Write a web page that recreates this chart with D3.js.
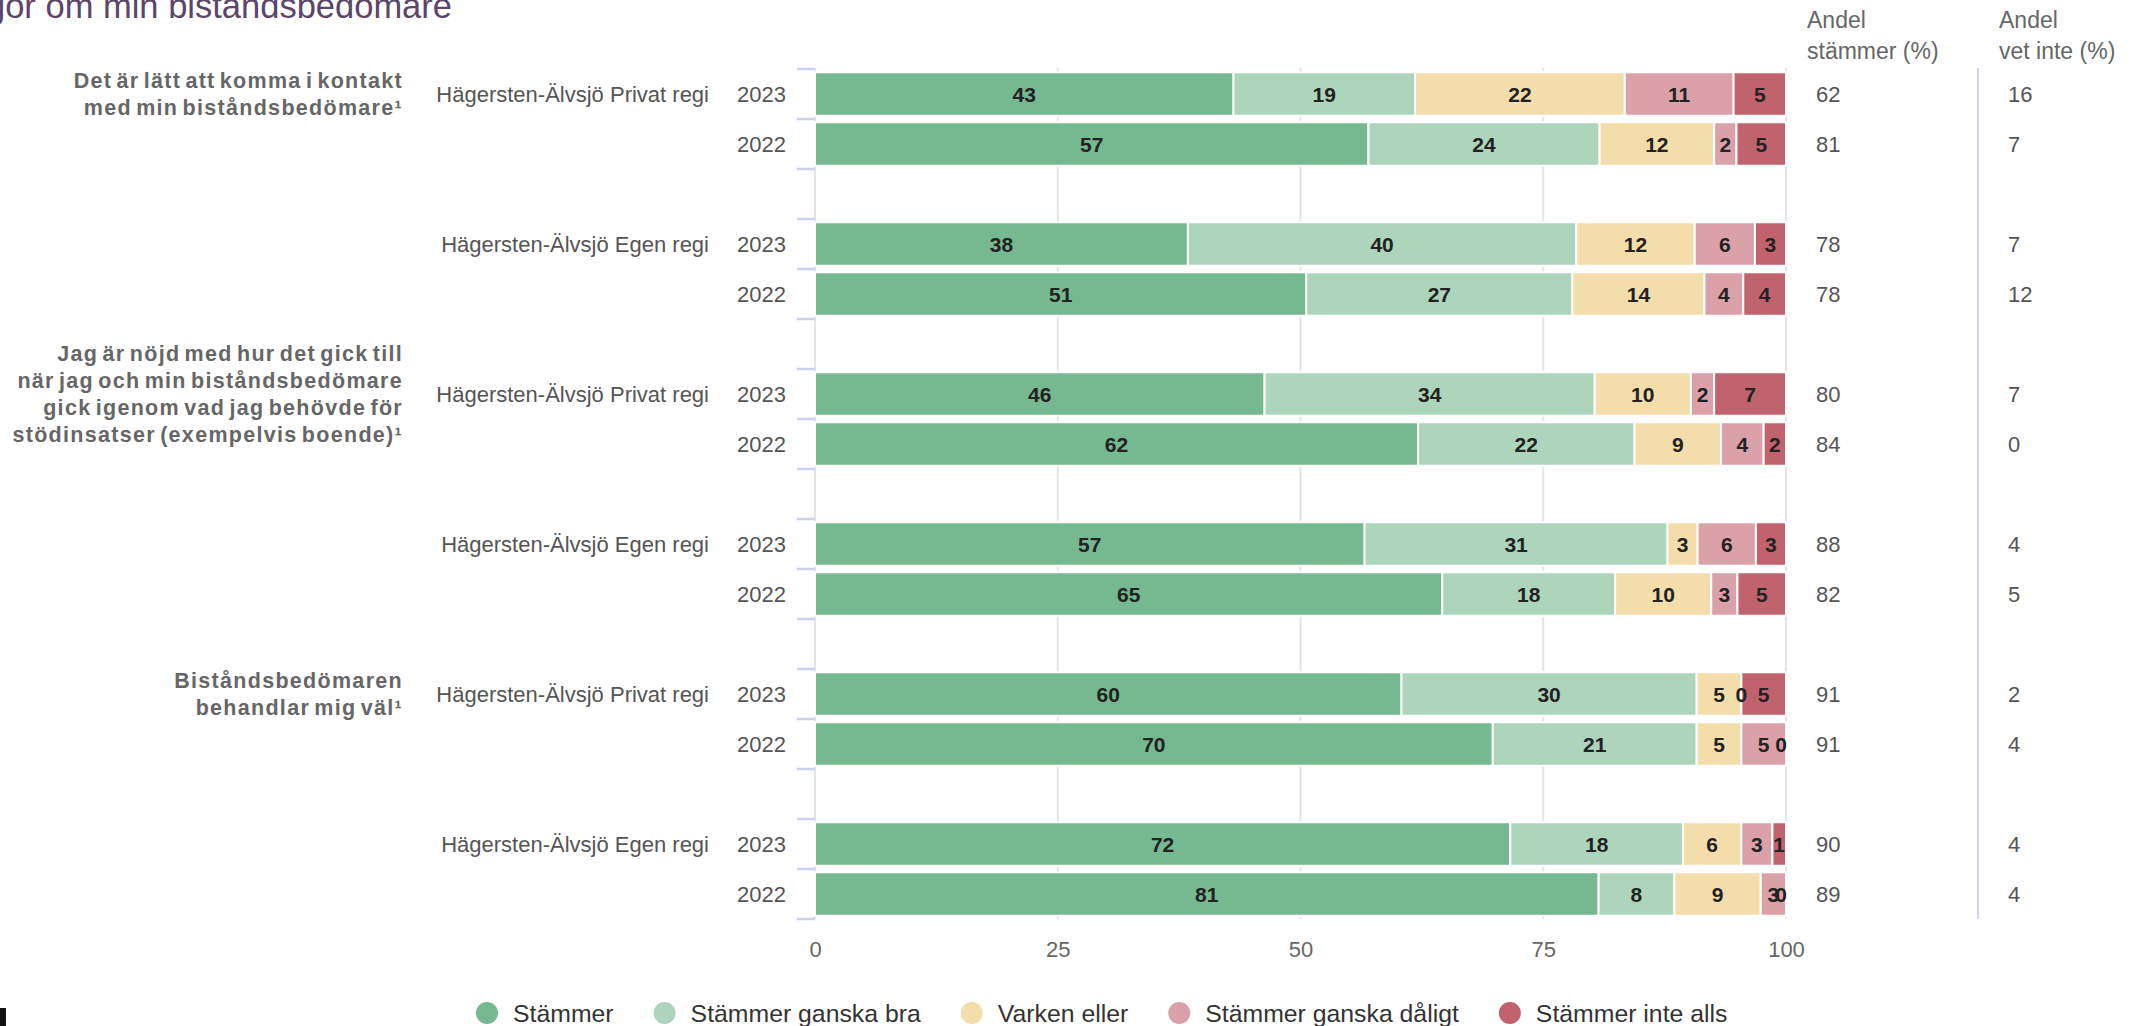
<!DOCTYPE html>
<html><head><meta charset="utf-8">
<script src="https://cdn.jsdelivr.net/npm/d3@7"></script>
<style>
body{margin:0;background:#fff;overflow:hidden}
text{font-family:"Liberation Sans",Arial,Helvetica,sans-serif}
</style>
</head><body>
<svg id="chart" width="2138" height="1026"></svg>
<script>
// ---------- data ----------
const titleText = "Frågor om min biståndsbedömare";
const questions = [
  ["Det är lätt att komma i kontakt", "med min biståndsbedömare¹"],
  ["Jag är nöjd med hur det gick till", "när jag och min biståndsbedömare", "gick igenom vad jag behövde för", "stödinsatser (exempelvis boende)¹"],
  ["Biståndsbedömaren", "behandlar mig väl¹"]
];
const units = ["Hägersten-Älvsjö Privat regi", "Hägersten-Älvsjö Egen regi"];
const years = ["2023", "2022"];
const seriesNames = ["Stämmer", "Stämmer ganska bra", "Varken eller", "Stämmer ganska dåligt", "Stämmer inte alls"];
const seriesColors = ["#76b990", "#add5bc", "#f3ddaa", "#dba1a8", "#c1636c"];
// one value per row, rows ordered: question -> unit -> year
const stammer       = [43.1, 57.0, 38.4, 50.6, 46.3, 62.1, 56.6, 64.6, 60.4, 69.8, 71.6, 80.7];
const ganskaBra     = [18.7, 23.8, 40.0, 27.4, 34.0, 22.3, 31.2, 17.8, 30.4, 21.0, 17.8,  7.8];
const varkenEller   = [21.6, 11.8, 12.2, 13.6,  9.9,  8.9,  3.1,  9.9,  4.6,  4.6,  6.0,  8.9];
const ganskaDaligt  = [11.2,  2.3,  6.2,  4.0,  2.4,  4.4,  6.0,  2.7,  0.0,  4.6,  3.2,  2.6];
const inteAlls      = [ 5.4,  5.1,  3.2,  4.4,  7.4,  2.3,  3.1,  5.0,  4.6,  0.0,  1.4,  0.0];
const andelStammer  = [62, 81, 78, 78, 80, 84, 88, 82, 91, 91, 90, 89];
const andelVetInte  = [16, 7, 7, 12, 7, 0, 4, 5, 2, 4, 4, 4];
const xTicks = [0, 25, 50, 75, 100];
const colHeaders = [["Andel", "stämmer (%)"], ["Andel", "vet inte (%)"]];

// ---------- build table ----------
const keys = ["s0", "s1", "s2", "s3", "s4"];
const seriesArrays = [stammer, ganskaBra, varkenEller, ganskaDaligt, inteAlls];
const rows = stammer.map((_, i) => {
  const r = {id: "r" + i, i, q: Math.floor(i / 4), u: Math.floor(i / 2) % 2, y: i % 2};
  keys.forEach((k, j) => r[k] = seriesArrays[j][i]);
  return r;
});
const domain = [];
for (let g = 0; g < rows.length / 2; g++) {
  domain.push("r" + (2 * g), "r" + (2 * g + 1));
  if (g < rows.length / 2 - 1) domain.push("gap" + g);
}

// ---------- layout ----------
const svg = d3.select("#chart");
const plotTop = 69, plotBottom = 919;
const x = d3.scaleLinear().domain([0, 100]).range([815, 1786]);
const y = d3.scaleBand().domain(domain).range([plotTop, plotBottom]).paddingInner(0.13).paddingOuter(0.065);
const fontMain = 22;

// title
svg.append("text").attr("x", 452).attr("y", 18).attr("text-anchor", "end")
  .attr("font-size", 34.5).attr("fill", "#5b4568").text(titleText);

// gridlines
svg.append("g").selectAll("line").data(xTicks).join("line")
  .attr("x1", d => x(d)).attr("x2", d => x(d))
  .attr("y1", plotTop - 1).attr("y2", plotBottom)
  .attr("stroke", "#e4e4e4").attr("stroke-width", 2);

// x axis labels
const xAxis = d3.axisBottom(x).tickValues(xTicks).tickSize(0).tickPadding(0);
const gx = svg.append("g").attr("transform", `translate(0,${plotBottom + 22})`).call(xAxis);
gx.select(".domain").remove();
gx.selectAll("text").attr("font-size", fontMain).attr("fill", "#666")
  .attr("font-family", "'Liberation Sans',Arial,sans-serif").attr("dy", "0.71em");

// left bracket ticks at group boundaries
const tickYs = [];
for (let g = 0; g < rows.length / 2; g++) {
  const a = y("r" + (2 * g)) - y.step() * y.paddingInner() / 2;
  tickYs.push(a, a + y.step(), a + 2 * y.step());
}
svg.append("g").selectAll("line").data(tickYs).join("line")
  .attr("x1", 797).attr("x2", x(0)).attr("y1", d => d).attr("y2", d => d)
  .attr("stroke", "#c9d1ec").attr("stroke-width", 2.5);

// stacked bars
const stack = d3.stack().keys(keys)(rows);
const segs = svg.append("g").selectAll("g").data(stack).join("g")
  .attr("fill", (d, j) => seriesColors[j]);
segs.selectAll("rect").data(d => d).join("rect")
  .attr("x", d => x(d[0])).attr("width", d => Math.max(0, x(d[1]) - x(d[0])))
  .attr("y", d => y(d.data.id)).attr("height", y.bandwidth())
  .attr("stroke", "#fff").attr("stroke-width", 2);

// bar labels
const labelG = svg.append("g");
stack.forEach((s, j) => {
  labelG.append("g").selectAll("text").data(s).join("text")
    .attr("x", d => {
      const c = (x(d[0]) + x(d[1])) / 2;
      return Math.min(c, x(100) - 5);
    })
    .attr("y", d => y(d.data.id) + y.bandwidth() / 2)
    .attr("dy", "0.36em").attr("text-anchor", "middle")
    .attr("font-size", 21).attr("font-weight", "bold").attr("fill", "#222")
    .text(d => Math.round(d[1] - d[0]));
});

// year labels
svg.append("g").selectAll("text").data(rows).join("text")
  .attr("x", 786).attr("y", d => y(d.id) + y.bandwidth() / 2).attr("dy", "0.36em")
  .attr("text-anchor", "end").attr("font-size", fontMain).attr("fill", "#555")
  .text(d => years[d.y]);

// unit labels
svg.append("g").selectAll("text").data(rows.filter(r => r.y === 0)).join("text")
  .attr("x", 709).attr("y", d => y(d.id) + y.bandwidth() / 2).attr("dy", "0.36em")
  .attr("text-anchor", "end").attr("font-size", fontMain).attr("fill", "#555")
  .text(d => units[d.u]);

// question labels
const lineH = 27;
questions.forEach((lines, q) => {
  const cy = y("r" + (q * 4)) + y.bandwidth() / 2;
  const t = svg.append("text").attr("text-anchor", "end").attr("font-size", 21.5)
    .attr("font-weight", "bold").attr("fill", "#666")
    .attr("letter-spacing", 1.3).attr("word-spacing", -3);
  lines.forEach((ln, k) => {
    t.append("tspan").attr("x", 403)
      .attr("y", cy + (k - (lines.length - 1) / 2) * lineH).attr("dy", "0.36em").text(ln);
  });
});

// right columns
const colX = [1816, 2008];
const colHeadX = [1807, 1999];
const colData = [andelStammer, andelVetInte];
colHeaders.forEach((h, c) => {
  const t = svg.append("text").attr("font-size", 23).attr("fill", "#666");
  h.forEach((ln, k) => t.append("tspan").attr("x", colHeadX[c]).attr("y", 28 + k * 31).text(ln));
  svg.append("g").selectAll("text").data(rows).join("text")
    .attr("x", colX[c]).attr("y", d => y(d.id) + y.bandwidth() / 2).attr("dy", "0.36em")
    .attr("font-size", fontMain).attr("fill", "#555")
    .text(d => colData[c][d.i]);
});
svg.append("line").attr("x1", 1978).attr("x2", 1978).attr("y1", plotTop - 1).attr("y2", plotBottom)
  .attr("stroke", "#cdd5ee").attr("stroke-width", 2);

// legend
const legend = svg.append("g").attr("transform", "translate(0,1013)");
let lx = 487;
seriesNames.forEach((name, j) => {
  legend.append("circle").attr("cx", lx).attr("cy", 0).attr("r", 11).attr("fill", seriesColors[j]);
  const t = legend.append("text").attr("x", lx + 26).attr("y", 0).attr("dy", "0.36em")
    .attr("font-size", 24.8).attr("fill", "#333").text(name);
  lx = lx + 26 + t.node().getComputedTextLength() + 51;
});

// bottom-left fragment
svg.append("rect").attr("x", 0).attr("y", 1008).attr("width", 6).attr("height", 18).attr("fill", "#111");
</script>
</body></html>
